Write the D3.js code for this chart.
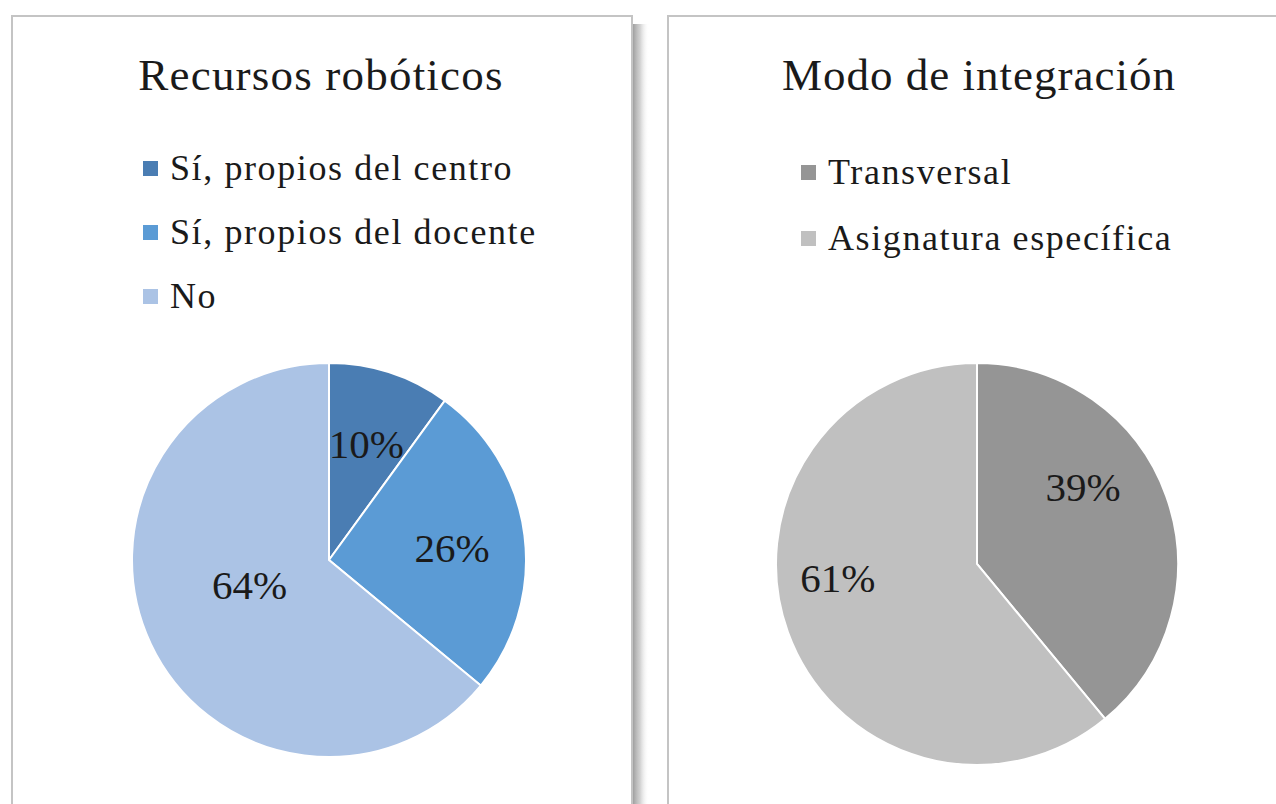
<!DOCTYPE html>
<html>
<head>
<meta charset="utf-8">
<script src="https://cdn.jsdelivr.net/npm/d3@7"></script>
<style>
  html, body { margin: 0; padding: 0; background: #ffffff; }
  svg { display: block; }
  svg text { font-family: "Liberation Serif", "DejaVu Serif", serif; }
</style>
</head>
<body>
<svg id="chart" width="1276" height="804"></svg>
<script>
// data
var recursosLabels = ["Sí, propios del centro", "Sí, propios del docente", "No"];
var recursosValues = [10, 26, 64];
var recursosColors = ["#4a7db3", "#5b9bd5", "#abc3e5"];

var modoLabels = ["Transversal", "Asignatura específica"];
var modoValues = [39, 61];
var modoColors = ["#959595", "#c0c0c0"];

var svg = d3.select("#chart");

// soft shadow to the right of a panel
var defs = svg.append("defs");
var grad = defs.append("linearGradient").attr("id", "shadowGrad")
    .attr("x1", "0%").attr("x2", "100%").attr("y1", "0%").attr("y2", "0%");
grad.append("stop").attr("offset", "0%").attr("stop-color", "#8f8f8f").attr("stop-opacity", 0.85);
grad.append("stop").attr("offset", "45%").attr("stop-color", "#b5b5b5").attr("stop-opacity", 0.6);
grad.append("stop").attr("offset", "100%").attr("stop-color", "#ffffff").attr("stop-opacity", 0);

function drawPanel(cfg) {
    var g = svg.append("g");
    // shadow
    g.append("rect")
        .attr("x", cfg.x + cfg.w + 1).attr("y", cfg.y + 8)
        .attr("width", 16).attr("height", 900)
        .attr("fill", "url(#shadowGrad)");
    g.append("rect")
        .attr("x", cfg.x).attr("y", cfg.y)
        .attr("width", cfg.w).attr("height", 900)
        .attr("fill", "#ffffff")
        .attr("stroke", "#c4c4c4")
        .attr("stroke-width", 2);

    g.append("text")
        .attr("x", cfg.titleX).attr("y", 90)
        .attr("text-anchor", "middle")
        .style("font-size", "45px")
        .style("letter-spacing", cfg.titleSpacing + "px")
        .attr("fill", "#1a1a1a")
        .text(cfg.title);

    var legend = g.selectAll(".legend")
        .data(cfg.labels)
        .enter().append("g")
        .attr("class", "legend")
        .attr("transform", function (d, i) { return "translate(" + cfg.legX + "," + (cfg.legY + i * cfg.legStep) + ")"; });
    legend.append("rect")
        .attr("x", 1).attr("y", -19)
        .attr("width", 15).attr("height", 15)
        .attr("fill", function (d, i) { return cfg.colors[i]; });
    legend.append("text")
        .attr("x", 28).attr("y", 0)
        .style("font-size", "36px")
        .style("letter-spacing", "1.6px")
        .attr("fill", "#1a1a1a")
        .text(function (d) { return d; });

    var pie = d3.pie().sort(null).value(function (d) { return d; });
    var arcs = pie(cfg.values);
    var arc = d3.arc().innerRadius(0).outerRadius(cfg.r);
    var labelArc = d3.arc().innerRadius(cfg.r * 0.63).outerRadius(cfg.r * 0.63);

    var pg = g.append("g").attr("transform", "translate(" + cfg.cx + "," + cfg.cy + ")");
    pg.selectAll("path")
        .data(arcs)
        .enter().append("path")
        .attr("d", arc)
        .attr("fill", function (d, i) { return cfg.colors[i]; })
        .attr("stroke", "#ffffff")
        .attr("stroke-width", 2);

    pg.selectAll(".pct")
        .data(arcs)
        .enter().append("text")
        .attr("class", "pct")
        .attr("transform", function (d, i) {
            var c = labelArc.centroid(d);
            var n = cfg.nudge[i];
            return "translate(" + (c[0] + n[0]) + "," + (c[1] + n[1]) + ")";
        })
        .attr("text-anchor", "middle")
        .attr("dy", "0.35em")
        .style("font-size", "41px")
        .attr("fill", "#1a1a1a")
        .text(function (d) { return d.data + "%"; });
}

drawPanel({
    x: 12, y: 16, w: 620,
    title: "Recursos robóticos", titleX: 321, titleSpacing: 1.2,
    labels: recursosLabels, values: recursosValues, colors: recursosColors,
    legX: 142, legY: 180, legStep: 64,
    cx: 329, cy: 560, r: 197,
    nudge: [[-1, 2], [0, 3], [33, -28]]
});

drawPanel({
    x: 668, y: 16, w: 640,
    title: "Modo de integración", titleX: 979, titleSpacing: 1,
    labels: modoLabels, values: modoValues, colors: modoColors,
    legX: 800, legY: 184, legStep: 66,
    cx: 977, cy: 564, r: 201,
    nudge: [[-13, -34], [-20, -29]]
});
</script>
</body>
</html>
